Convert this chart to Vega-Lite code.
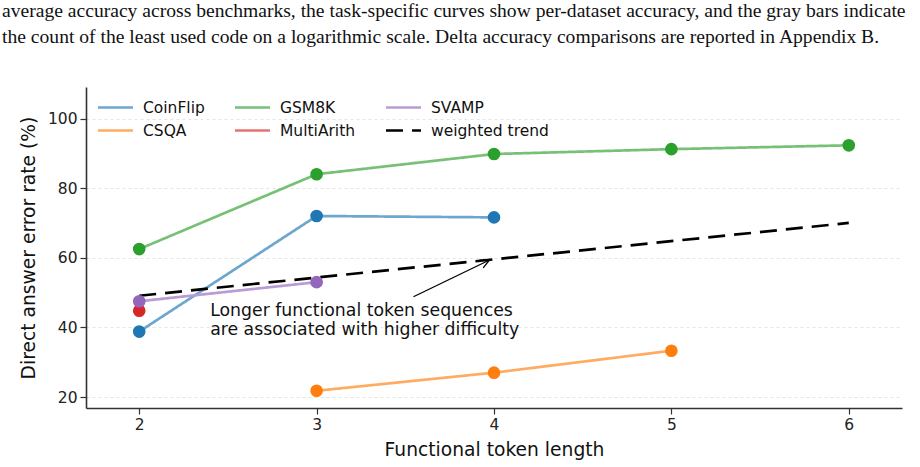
{
  "$schema": "https://vega.github.io/schema/vega-lite/v6.json",
  "width": 816,
  "height": 321,
  "autosize": {"type": "none"},
  "padding": {"left": 86, "top": 87, "right": 18, "bottom": 59},
  "background": "white",
  "title": {
    "text": [
      "average accuracy across benchmarks, the task-specific curves show per-dataset accuracy, and the gray bars indicate",
      "the count of the least used code on a logarithmic scale. Delta accuracy comparisons are reported in Appendix B."
    ],
    "anchor": "start",
    "frame": "group",
    "font": "Liberation Serif",
    "fontSize": 19.6,
    "fontWeight": "normal",
    "color": "#111111",
    "lineHeight": 26,
    "dx": -84,
    "offset": 39
  },
  "config": {
    "font": "DejaVu Sans",
    "view": {"stroke": null},
    "axis": {
      "labelFont": "DejaVu Sans",
      "labelFontSize": 15.5,
      "labelColor": "#222222",
      "titleFont": "DejaVu Sans",
      "titleFontSize": 18.7,
      "titleFontWeight": "normal",
      "titleColor": "#111111",
      "domainColor": "#333333",
      "domainWidth": 1.6,
      "tickColor": "#333333",
      "tickSize": 6,
      "tickWidth": 1.2
    },
    "legend": {
      "title": null,
      "orient": "none",
      "legendX": 19,
      "legendY": 10,
      "direction": "vertical",
      "columns": 3,
      "symbolType": "M-2,0L2,0",
      "symbolSize": 306,
      "labelFont": "DejaVu Sans",
      "labelFontSize": 15.5,
      "labelColor": "#111111",
      "labelOffset": 17,
      "columnPadding": 24,
      "rowPadding": 4
    }
  },
  "datasets": {
    "series": [
      {"dataset": "CoinFlip", "length": 2, "error": 38.8},
      {"dataset": "CoinFlip", "length": 3, "error": 72.0},
      {"dataset": "CoinFlip", "length": 4, "error": 71.6},
      {"dataset": "CSQA", "length": 3, "error": 21.8},
      {"dataset": "CSQA", "length": 4, "error": 27.0},
      {"dataset": "CSQA", "length": 5, "error": 33.3},
      {"dataset": "GSM8K", "length": 2, "error": 62.5},
      {"dataset": "GSM8K", "length": 3, "error": 84.0},
      {"dataset": "GSM8K", "length": 4, "error": 89.8},
      {"dataset": "GSM8K", "length": 5, "error": 91.2},
      {"dataset": "GSM8K", "length": 6, "error": 92.3},
      {"dataset": "MultiArith", "length": 2, "error": 44.8},
      {"dataset": "SVAMP", "length": 2, "error": 47.5},
      {"dataset": "SVAMP", "length": 3, "error": 53.0},
      {"dataset": "weighted trend", "length": 2, "error": 49.1},
      {"dataset": "weighted trend", "length": 6, "error": 70.0}
    ],
    "arrowShaft": [
      {"x": 3.546, "y": 48.8, "x2": 3.975, "y2": 59.37}
    ],
    "arrowHead": [
      {"x": 3.918, "y": 59.3, "step": 0},
      {"x": 3.975, "y": 59.37, "step": 1},
      {"x": 3.939, "y": 57.1, "step": 2}
    ],
    "note": [
      {"x": 2.4, "y": 43.3, "label": ["Longer functional token sequences", "are associated with higher difficulty"]}
    ]
  },
  "encoding": {
    "x": {
      "type": "quantitative",
      "scale": {"domain": [1.7, 6.3], "nice": false, "zero": false},
      "axis": {
        "title": "Functional token length",
        "values": [2, 3, 4, 5, 6],
        "format": "d",
        "grid": false,
        "labelPadding": 3,
        "titlePadding": 8
      }
    },
    "y": {
      "type": "quantitative",
      "scale": {"domain": [16.85, 109.05], "nice": false, "zero": false},
      "axis": {
        "title": "Direct answer error rate (%)",
        "values": [20, 40, 60, 80, 100],
        "grid": true,
        "gridColor": "#dddddd",
        "gridDash": [3, 3],
        "gridWidth": 0.8,
        "labelPadding": 3,
        "titlePadding": 9
      }
    }
  },
  "layer": [
    {
      "data": {"name": "series"},
      "mark": {"type": "line", "strokeCap": "butt"},
      "encoding": {
        "x": {"field": "length"},
        "y": {"field": "error"},
        "color": {
          "field": "dataset",
          "type": "nominal",
          "scale": {
            "domain": ["CoinFlip", "CSQA", "GSM8K", "MultiArith", "SVAMP", "weighted trend"],
            "range": ["#6da7ce", "#ffac62", "#76c176", "#e47373", "#b99cd4", "#000000"]
          }
        },
        "strokeDash": {
          "field": "dataset",
          "type": "nominal",
          "scale": {
            "domain": ["CoinFlip", "CSQA", "GSM8K", "MultiArith", "SVAMP", "weighted trend"],
            "range": [[1, 0], [1, 0], [1, 0], [1, 0], [1, 0], [17, 9]]
          }
        },
        "strokeWidth": {
          "field": "dataset",
          "type": "nominal",
          "scale": {
            "domain": ["CoinFlip", "CSQA", "GSM8K", "MultiArith", "SVAMP", "weighted trend"],
            "range": [2.7, 2.7, 2.7, 2.7, 2.7, 5.5]
          }
        }
      }
    },
    {
      "data": {"name": "series"},
      "transform": [{"filter": "datum.dataset !== 'weighted trend'"}],
      "mark": {"type": "point", "filled": true, "opacity": 1, "size": 160, "strokeWidth": 0},
      "encoding": {
        "x": {"field": "length"},
        "y": {"field": "error"},
        "fill": {
          "field": "dataset",
          "type": "nominal",
          "scale": {
            "domain": ["CoinFlip", "CSQA", "GSM8K", "MultiArith", "SVAMP"],
            "range": ["#1f77b4", "#ff7f0e", "#2ca02c", "#d62728", "#9467bd"]
          },
          "legend": null
        }
      }
    },
    {
      "data": {"name": "arrowShaft"},
      "mark": {"type": "rule", "color": "#000000", "strokeWidth": 1.3},
      "encoding": {
        "x": {"field": "x"},
        "y": {"field": "y"},
        "x2": {"field": "x2"},
        "y2": {"field": "y2"}
      }
    },
    {
      "data": {"name": "arrowHead"},
      "mark": {"type": "line", "color": "#000000", "strokeWidth": 1.3},
      "encoding": {
        "x": {"field": "x"},
        "y": {"field": "y"},
        "order": {"field": "step"}
      }
    },
    {
      "data": {"name": "note"},
      "mark": {
        "type": "text",
        "align": "left",
        "baseline": "alphabetic",
        "font": "DejaVu Sans",
        "fontSize": 17.3,
        "lineHeight": 19,
        "color": "#111111"
      },
      "encoding": {
        "x": {"field": "x"},
        "y": {"field": "y"},
        "text": {"field": "label"}
      }
    }
  ]
}
